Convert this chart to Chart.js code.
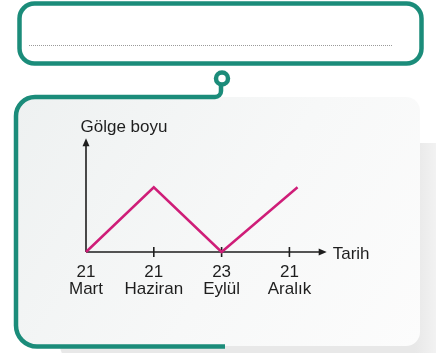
<!DOCTYPE html>
<html>
<head>
<meta charset="utf-8">
<script src="https://cdn.jsdelivr.net/npm/chart.js@4"></script>
<style>
  html, body { margin: 0; padding: 0; background: #ffffff; }
  #wrap { width: 436px; height: 353px; }
</style>
</head>
<body>
<div id="wrap"><canvas id="grafik" width="436" height="353"></canvas></div>
<script>
// Datos del gráfico
const tickPositions = [0, 1, 2, 3];
const tickDays = ["21", "21", "23", "21"];
const tickMonths = ["Mart", "Haziran", "Eylül", "Aralık"];
const xValues = [0, 1, 2, 3.12];
const shadowValues = [0, 1, 0, 1];
const yAxisTitle = "Gölge boyu";
const xAxisTitle = "Tarih";

const TEAL = "#1b8c7a";
const PINK = "#cf1d78";
const INK = "#1e1e1e";
const FONT = "17px 'Liberation Sans', Arial, sans-serif";

function roundRectPath(ctx, x, y, w, h, r) {
  ctx.beginPath();
  ctx.moveTo(x + r, y);
  ctx.lineTo(x + w - r, y);
  ctx.arcTo(x + w, y, x + w, y + r, r);
  ctx.lineTo(x + w, y + h - r);
  ctx.arcTo(x + w, y + h, x + w - r, y + h, r);
  ctx.lineTo(x + r, y + h);
  ctx.arcTo(x, y + h, x, y + h - r, r);
  ctx.lineTo(x, y + r);
  ctx.arcTo(x, y, x + r, y, r);
  ctx.closePath();
}

// Marco decorativo: caja superior, conector y panel gris
const marco = {
  id: "marco",
  beforeDraw(chart) {
    const ctx = chart.ctx;
    ctx.save();
    ctx.fillStyle = "#ffffff";
    ctx.fillRect(0, 0, chart.width, chart.height);

    // sombra del panel
    const sg = ctx.createLinearGradient(415, 0, 436, 0);
    sg.addColorStop(0, "#e8e8e8");
    sg.addColorStop(1, "#f2f2f2");
    ctx.fillStyle = sg;
    roundRectPath(ctx, 60, 143, 400, 220, 18);
    ctx.fill();

    // panel gris
    const pg = ctx.createLinearGradient(16, 97, 420, 346);
    pg.addColorStop(0, "#eef1f1");
    pg.addColorStop(0.55, "#f7f8f8");
    pg.addColorStop(1, "#fcfcfc");
    ctx.fillStyle = pg;
    roundRectPath(ctx, 16, 97, 404, 249, 14);
    ctx.fill();

    // caja superior
    ctx.fillStyle = "#ffffff";
    roundRectPath(ctx, 19.5, 3.5, 402, 60, 15);
    ctx.fill();
    ctx.lineWidth = 4.5;
    ctx.strokeStyle = TEAL;
    ctx.stroke();

    // línea punteada
    ctx.beginPath();
    ctx.setLineDash([1, 1]);
    ctx.lineWidth = 1;
    ctx.strokeStyle = "#9a9a9a";
    ctx.moveTo(29, 45.5);
    ctx.lineTo(393, 45.5);
    ctx.stroke();
    ctx.setLineDash([]);

    // conector
    ctx.lineWidth = 4.5;
    ctx.strokeStyle = TEAL;
    ctx.beginPath();
    ctx.arc(222, 78.5, 6, 0, Math.PI * 2);
    ctx.stroke();
    ctx.beginPath();
    ctx.moveTo(221, 84.5);
    ctx.lineTo(221, 91);
    ctx.arcTo(221, 97, 215, 97, 6);
    ctx.lineTo(35, 97);
    ctx.arcTo(16, 97, 16, 116, 19);
    ctx.lineTo(16, 326);
    ctx.arcTo(16, 346.5, 37, 346.5, 21);
    ctx.lineTo(225, 346.5);
    ctx.stroke();
    ctx.restore();
  },
  // Ejes con flechas, marcas y etiquetas
  beforeDatasetsDraw(chart) {
    const ctx = chart.ctx;
    const xs = chart.scales.x;
    const ys = chart.scales.y;
    const x0 = xs.getPixelForValue(0);
    const y0 = ys.getPixelForValue(0);
    const xEnd = chart.chartArea.right;
    const yEnd = chart.chartArea.top;
    ctx.save();
    ctx.strokeStyle = INK;
    ctx.fillStyle = INK;
    ctx.lineWidth = 1.6;

    ctx.beginPath();
    ctx.moveTo(x0, y0);
    ctx.lineTo(xEnd - 6, y0);
    ctx.moveTo(x0, y0);
    ctx.lineTo(x0, yEnd + 6);
    ctx.stroke();

    ctx.beginPath();
    ctx.moveTo(xEnd, y0);
    ctx.lineTo(xEnd - 8, y0 - 3.5);
    ctx.lineTo(xEnd - 8, y0 + 3.5);
    ctx.closePath();
    ctx.fill();
    ctx.beginPath();
    ctx.moveTo(x0, yEnd);
    ctx.lineTo(x0 - 3.5, yEnd + 8);
    ctx.lineTo(x0 + 3.5, yEnd + 8);
    ctx.closePath();
    ctx.fill();

    ctx.font = FONT;
    ctx.textAlign = "center";
    ctx.textBaseline = "alphabetic";
    tickPositions.forEach((v, i) => {
      const px = xs.getPixelForValue(v);
      if (i > 0) {
        ctx.beginPath();
        ctx.moveTo(px, y0 - 5);
        ctx.lineTo(px, y0 + 5);
        ctx.stroke();
      }
      ctx.fillText(tickDays[i], px, y0 + 24.5);
      ctx.fillText(tickMonths[i], px, y0 + 42);
    });

    ctx.textAlign = "left";
    ctx.fillText(xAxisTitle, xEnd + 6, y0 + 6.5);
    ctx.fillText(yAxisTitle, x0 - 5.5, yEnd - 6.5);
    ctx.restore();
  }
};

new Chart(document.getElementById("grafik"), {
  type: "line",
  data: {
    datasets: [
      {
        data: xValues.map((x, i) => ({ x: x, y: shadowValues[i] })),
        borderColor: PINK,
        borderWidth: 2.5,
        pointRadius: 0,
        tension: 0,
        fill: false,
        clip: false,
      },
    ],
  },
  options: {
    responsive: false,
    animation: false,
    devicePixelRatio: 1,
    layout: { padding: { left: 86, right: 109.3, top: 138.3, bottom: 101 } },
    plugins: { legend: { display: false }, tooltip: { enabled: false } },
    scales: {
      x: { type: "linear", min: 0, max: 3.55, display: false },
      y: { min: 0, max: 1.757, display: false },
    },
  },
  plugins: [marco],
});
</script>
</body>
</html>
